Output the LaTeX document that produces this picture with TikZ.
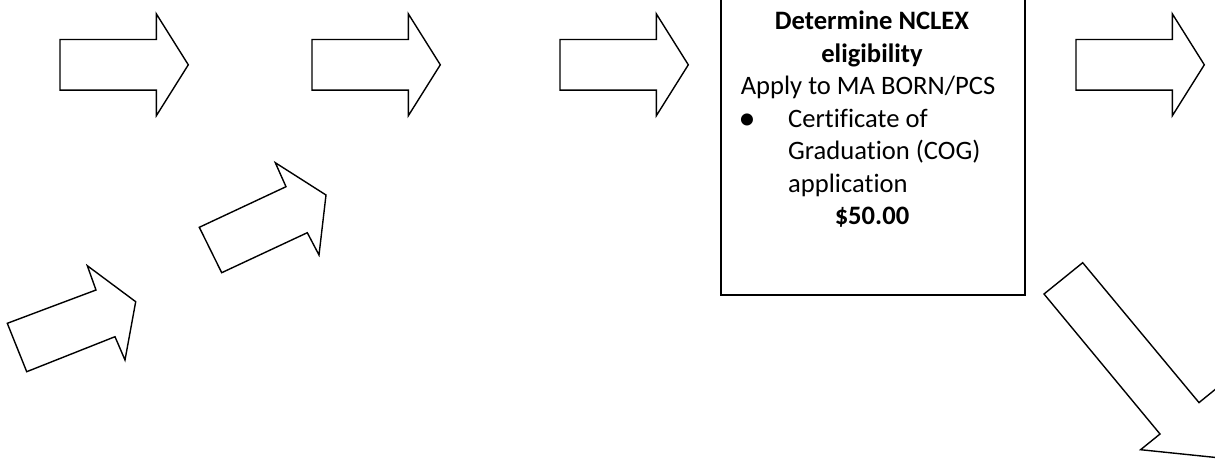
\documentclass[tikz,border=0pt]{standalone}
\usepackage{fontspec}
\setmainfont[Ligatures={NoCommon}]{Carlito}
\begin{document}
\begin{tikzpicture}[x=1pt,y=-1pt,
  blockarrow/.style={draw=black,line width=1.4pt,fill=white,line join=miter},
  txt/.style={inner sep=0pt,font=\fontsize{26.6}{32.5}\selectfont},
  btxt/.style={txt,font=\fontsize{26.6}{32.5}\selectfont\bfseries},
  harrow/.pic={\draw[blockarrow] (0,-25.3) -- (96.3,-25.3) -- (96.3,-51) -- (128.3,0) -- (96.3,51) -- (96.3,25.3) -- (0,25.3) -- cycle;}]
\useasboundingbox (0,0) rectangle (1215,458);
\clip (0,0) rectangle (1215,458);
% horizontal arrows
\pic (a1) at (60,64.8) {harrow};
\pic (a2) at (312,64.8) {harrow};
\pic (a3) at (560,64.8) {harrow};
\pic (a4) at (1076,64.8) {harrow};
% diagonal arrows
\draw[blockarrow] (7.3,323.3) -- (96,290) -- (87.3,265.7) -- (135.7,301.7) -- (125,360) -- (115,336.7) -- (26.7,371.7) -- cycle;
\draw[blockarrow] (199.3,227.3) -- (286,186.7) -- (275.3,162.7) -- (326,195) -- (319,255) -- (307.3,232.7) -- (221.7,272.7) -- cycle;
\draw[blockarrow] (1082.7,262.7) -- (1044,294) -- (1160,434) -- (1140.6,449.7) -- (1216,457.5) -- (1218.3,386.9) -- (1199,402.6) -- cycle;
% box
\node[draw=black,line width=1.8pt,minimum width=304pt,minimum height=316pt,anchor=south west,inner sep=0pt] (box) at (720,296) {};
\node[btxt,anchor=base] (t1) at (872,29.5) {Determine NCLEX};
\node[btxt,anchor=base] (t2) at (872,62) {eligibility};
\node[txt,anchor=base] (t3) at (868,94.5) {Apply to MA BORN/PCS};
\node[inner sep=0pt,font=\fontsize{34}{34}\selectfont,anchor=base] (bul) at (747,129) {•};
\node[txt,anchor=base west] (t4) at (788,127) {Certificate of};
\node[txt,anchor=base west] (t5) at (788,159.5) {Graduation (COG)};
\node[txt,anchor=base west] (t6) at (788,192) {application};
\node[btxt,anchor=base] (t7) at (872,224.5) {\$50.00};
\end{tikzpicture}
\end{document}
